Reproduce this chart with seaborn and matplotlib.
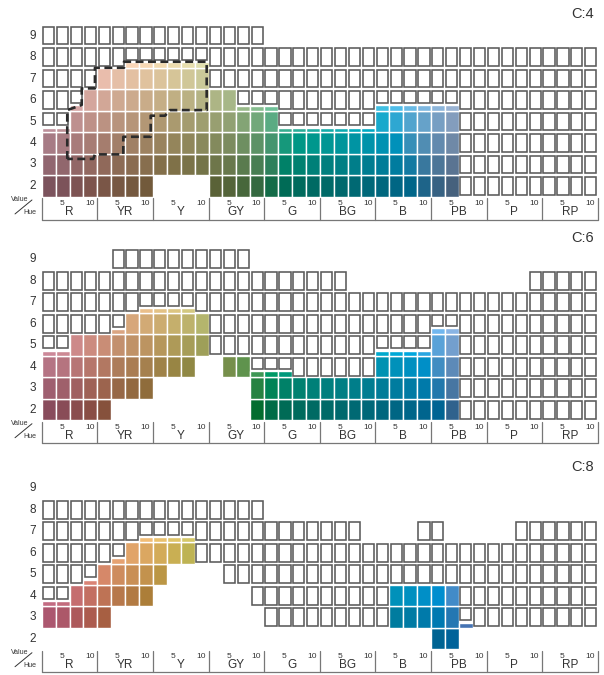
import numpy as np
import matplotlib
matplotlib.use("Agg")
import matplotlib.pyplot as plt
import seaborn as sns

sns.set_theme(style="white")
plt.rcParams['font.family'] = ['Liberation Sans', 'DejaVu Sans']

# ---------------- data ----------------
families = ["R", "YR", "Y", "GY", "G", "BG", "B", "PB", "P", "RP"]
value_rows = [2, 3, 4, 5, 6, 7, 8, 9]
chromas = [4, 6, 8]
N = None

# C:4 panel  (per hue column 2.5R, 5R, 7.5R, 10R, 2.5YR ... 10RP)
c4_bottom = [2, 2, 2, 2, 2, 2, 2, 2, 3, 3, 3, 3, 2, 2, 2, 2, 2, 2, 2, 2,
             2, 2, 2, 2, 2, 2, 2, 2, 2, 2, N, N, N, N, N, N, N, N, N, N]
c4_top = [4.72, 4.72, 5.75, 6.5, 7.5, 7.5, 7.75, 7.75, 7.75, 7.75, 7.75, 7.75,
          6.5, 6.5, 5.72, 5.72, 5.72, 4.72, 4.72, 4.72, 4.72, 4.72, 4.72, 4.72,
          5.75, 5.75, 5.75, 5.75, 5.75, 5.75, N, N, N, N, N, N, N, N, N, N]
c4_box_lo = [5, 5, 6, 7, 8, 8, 8, 8, 8, 8, 8, 8, 7, 7, 6, 6, 6, 5, 5, 5,
             5, 5, 5, 5, 6, 6, 6, 6, 6, 6, 2, 2, 2, 2, 2, 2, 2, 2, 2, 2]
c4_box_hi = [9, 9, 9, 9, 9, 9, 9, 9, 9, 9, 9, 9, 9, 9, 9, 9, 8, 8, 8, 8,
             8, 8, 8, 8, 8, 8, 8, 8, 8, 8, 8, 8, 8, 8, 8, 8, 8, 8, 8, 8]

# C:6 panel
c6_bottom = [2, 2, 2, 2, 2, 3, 3, 3, 4, 4, 4, 5, N, 4, 4, 2, 2, 2, 2, 2,
             2, 2, 2, 2, 2, 2, 2, 2, 2, 2, N, N, N, N, N, N, N, N, N, N]
c6_top = [4.75, 4.75, 5.5, 5.5, 5.5, 5.75, 6.5, 6.72, 6.72, 6.72, 6.72, 6.5,
          N, 4.5, 4.5, 3.78, 3.78, 3.78, 3.5, 3.5, 3.5, 3.5, 3.5, 3.5,
          4.75, 4.75, 4.75, 4.75, 5.78, 5.78, N, N, N, N, N, N, N, N, N, N]
c6_box_lo = [5, 5, 6, 6, 6, 6, 7, 7, 7, 7, 7, 7, 5, 5, 5, 4, 4, 4, 4, 4,
             4, 4, 4, 4, 5, 5, 5, 5, 6, 6, 2, 2, 2, 2, 2, 2, 2, 2, 2, 2]
c6_box_hi = [8, 8, 8, 8, 8, 9, 9, 9, 9, 9, 9, 9, 9, 9, 9, 8, 8, 8, 8, 8,
             8, 8, 7, 7, 7, 7, 7, 7, 7, 7, 7, 7, 7, 7, 7, 8, 8, 8, 8, 8]

# C:8 panel
c8_bottom = [3, 3, 3, 3, 3, 4, 4, 4, 5, 6, 6, N, N, N, N, N, N, N, N, N,
             N, N, N, N, N, 3, 3, 3, 2, 2, 3, N, N, N, N, N, N, N, N, N]
c8_top = [3.75, 3.75, 4.5, 4.75, 5.5, 5.75, 6.5, 6.72, 6.72, 6.72, 6.72,
          N, N, N, N, N, N, N, N, N, N, N, N, N, N,
          4.5, 4.5, 4.5, 4.5, 4.5, 2.75, N, N, N, N, N, N, N, N, N]
c8_box_lo = [4, 4, 5, 5, 6, 6, 7, 7, 7, 7, 7, 6, 6, 5, 5, 4, 3, 3, 3, 3,
             3, 3, 3, 3, 3, 5, 5, 5, 5, 5, 3, 3, 3, 3, 3, 3, 3, 3, 3, 3]
c8_box_hi = [8, 8, 8, 8, 8, 8, 8, 8, 8, 8, 8, 8, 8, 8, 8, 8, 7, 7, 7, 7,
             7, 7, 7, 6, 6, 6, 6, 7, 7, 6, 6, 6, 6, 6, 7, 7, 7, 7, 7, 7]

# dashed outline on the C:4 panel (hue-column units, Munsell value)
dash_u = [1.84, 1.84, 2.88, 2.88, 3.83, 3.83, 5.92, 5.92, 11.87, 11.87,
          9.23, 8.87, 7.84, 7.84, 5.87, 5.87, 3.83, 3.71, 1.84]
dash_v = [3.26, 5.53, 5.77, 6.54, 6.54, 7.50, 7.50, 7.78, 7.78, 5.53,
          5.53, 5.27, 5.27, 4.29, 4.29, 3.47, 3.47, 3.26, 3.26]

# approximate colour appearance per hue family (Lab hue angle, C* per chroma step)
fam_hue_deg = [10, 60, 92, 122, 172, 202, 240, 265, 310, 345]
fam_chroma_k = [4.6, 5.0, 6.2, 6.5, 10.0, 9.0, 9.0, 4.8, 5.0, 5.0]

M_XYZ = np.array([[3.2406, -1.5372, -0.4986],
                  [-0.9689, 1.8758, 0.0415],
                  [0.0557, -0.2040, 1.0570]])


def lab_to_lin(L, a, b):
    fy = (L + 16) / 116.0
    fx = fy + a / 500.0
    fz = fy - b / 200.0
    d = 6 / 29

    def finv(t):
        return t ** 3 if t > d else 3 * d * d * (t - 4 / 29)
    xyz = np.array([0.95047 * finv(fx), finv(fy), 1.08883 * finv(fz)])
    return M_XYZ @ xyz


def encode(rgb):
    rgb = np.clip(rgb, 0, 1)
    rgb = np.where(rgb > 0.0031308, 1.055 * rgb ** (1 / 2.4) - 0.055, 12.92 * rgb)
    return tuple(np.clip(rgb, 0, 1))


def lch_to_rgb(L, C, h):
    lin = lab_to_lin(L, C * np.cos(h), C * np.sin(h))
    if np.all(lin >= -1e-4) and np.all(lin <= 1 + 1e-4):
        return encode(lin)
    lo, hi = 0.0, C
    for _ in range(30):
        mid = 0.5 * (lo + hi)
        lin = lab_to_lin(L, mid * np.cos(h), mid * np.sin(h))
        if np.all(lin >= -1e-4) and np.all(lin <= 1 + 1e-4):
            lo = mid
        else:
            hi = mid
    return encode(lab_to_lin(L, lo * np.cos(h), lo * np.sin(h)))


def cell_color(col, value, chroma):
    pos = (col - 2) / 4.0
    f0 = int(np.floor(pos))
    t = pos - f0
    f0 %= 10
    f1 = (f0 + 1) % 10
    h0, h1 = fam_hue_deg[f0], fam_hue_deg[f1]
    dh = ((h1 - h0 + 180) % 360) - 180
    h = np.deg2rad(h0 + t * dh)
    k = fam_chroma_k[f0] * (1 - t) + fam_chroma_k[f1] * t
    L = 24 + 8 * value
    return lch_to_rgb(L, k * chroma, h)


# ---------------- figure ----------------
fig = plt.figure(figsize=(6.04, 6.75), dpi=100)
fig.patch.set_facecolor("white")

panels = [
    (c4_bottom, c4_top, c4_box_lo, c4_box_hi, 4, 0.70852),
    (c6_bottom, c6_top, c6_box_lo, c6_box_hi, 6, 0.37704),
    (c8_bottom, c8_top, c8_box_lo, c8_box_hi, 8, 0.03778),
]

TXT = "#333333"
for bottom, top, blo, bhi, chroma, ybot in panels:
    ax = fig.add_axes([0.06904, ybot, 0.92053, 0.25481])
    ax.set_xlim(0, 40)
    ax.set_ylim(1.5, 9.5)
    ax.axis("off")

    fx, fb, fh, fc = [], [], [], []
    bx, bb, bh = [], [], []
    for i in range(40):
        col = i + 1
        b, t = bottom[i], top[i]
        if b is not None:
            v = b
            while v - 0.5 < t - 1e-9:
                y0 = v - 0.5
                y1 = min(v + 0.5, t)
                fx.append(i); fb.append(y0); fh.append(y1 - y0)
                fc.append(cell_color(col, v, chroma))
                v += 1
        for v in range(blo[i], bhi[i] + 1):
            y0 = v - 0.5 + 0.085
            y1 = v + 0.5 - 0.085
            if b is not None and t > v - 0.5:
                y0 = t + 0.1
            bx.append(i + 0.1); bb.append(y0); bh.append(y1 - y0)

    ax.bar(fx, fh, bottom=fb, width=1.0, align="edge", color=fc,
           edgecolor="white", linewidth=1.0)
    ax.bar(bx, bh, bottom=bb, width=0.8, align="edge", fill=False,
           edgecolor="#5a5a5a", linewidth=1.15)

    for v in value_rows:
        ax.text(-0.66, v, str(v), ha="center", va="center", fontsize=8.5, color=TXT)
    ax.text(39.7, 9.98, f"C:{chroma}", ha="right", va="center", fontsize=10.5,
            color=TXT, clip_on=False)

    # hue axis
    ax.plot([0, 40], [0.44, 0.44], color="#777777", lw=0.9, clip_on=False)
    for f in range(11):
        ax.plot([4 * f, 4 * f], [0.44, 1.43], color="#777777", lw=0.9, clip_on=False)
    for f, name in enumerate(families):
        ax.text(4 * f + 2, 0.79, name, ha="center", va="center", fontsize=8.5, color=TXT,
                clip_on=False)
        ax.text(4 * f + 1.45, 1.19, "5", ha="center", va="center", fontsize=6,
                color=TXT, clip_on=False)
        ax.text(4 * f + 3.45, 1.19, "10", ha="center", va="center", fontsize=6,
                color=TXT, clip_on=False)
    ax.text(-1.58, 1.38, "Value", ha="center", va="center", fontsize=5, color=TXT,
            clip_on=False)
    ax.text(-0.84, 0.77, "Hue", ha="center", va="center", fontsize=5, color=TXT,
            clip_on=False)
    ax.plot([-1.92, -0.70], [0.70, 1.35], color=TXT, lw=0.7, clip_on=False)

    if chroma == 4:
        ax.plot(dash_u, dash_v, color="#2b2b2b", lw=1.9,
                linestyle=(0, (3.0, 1.7)), solid_joinstyle="round",
                dash_joinstyle="round", dash_capstyle="butt", zorder=5)

fig.savefig("out.png", dpi=100, facecolor="white")
